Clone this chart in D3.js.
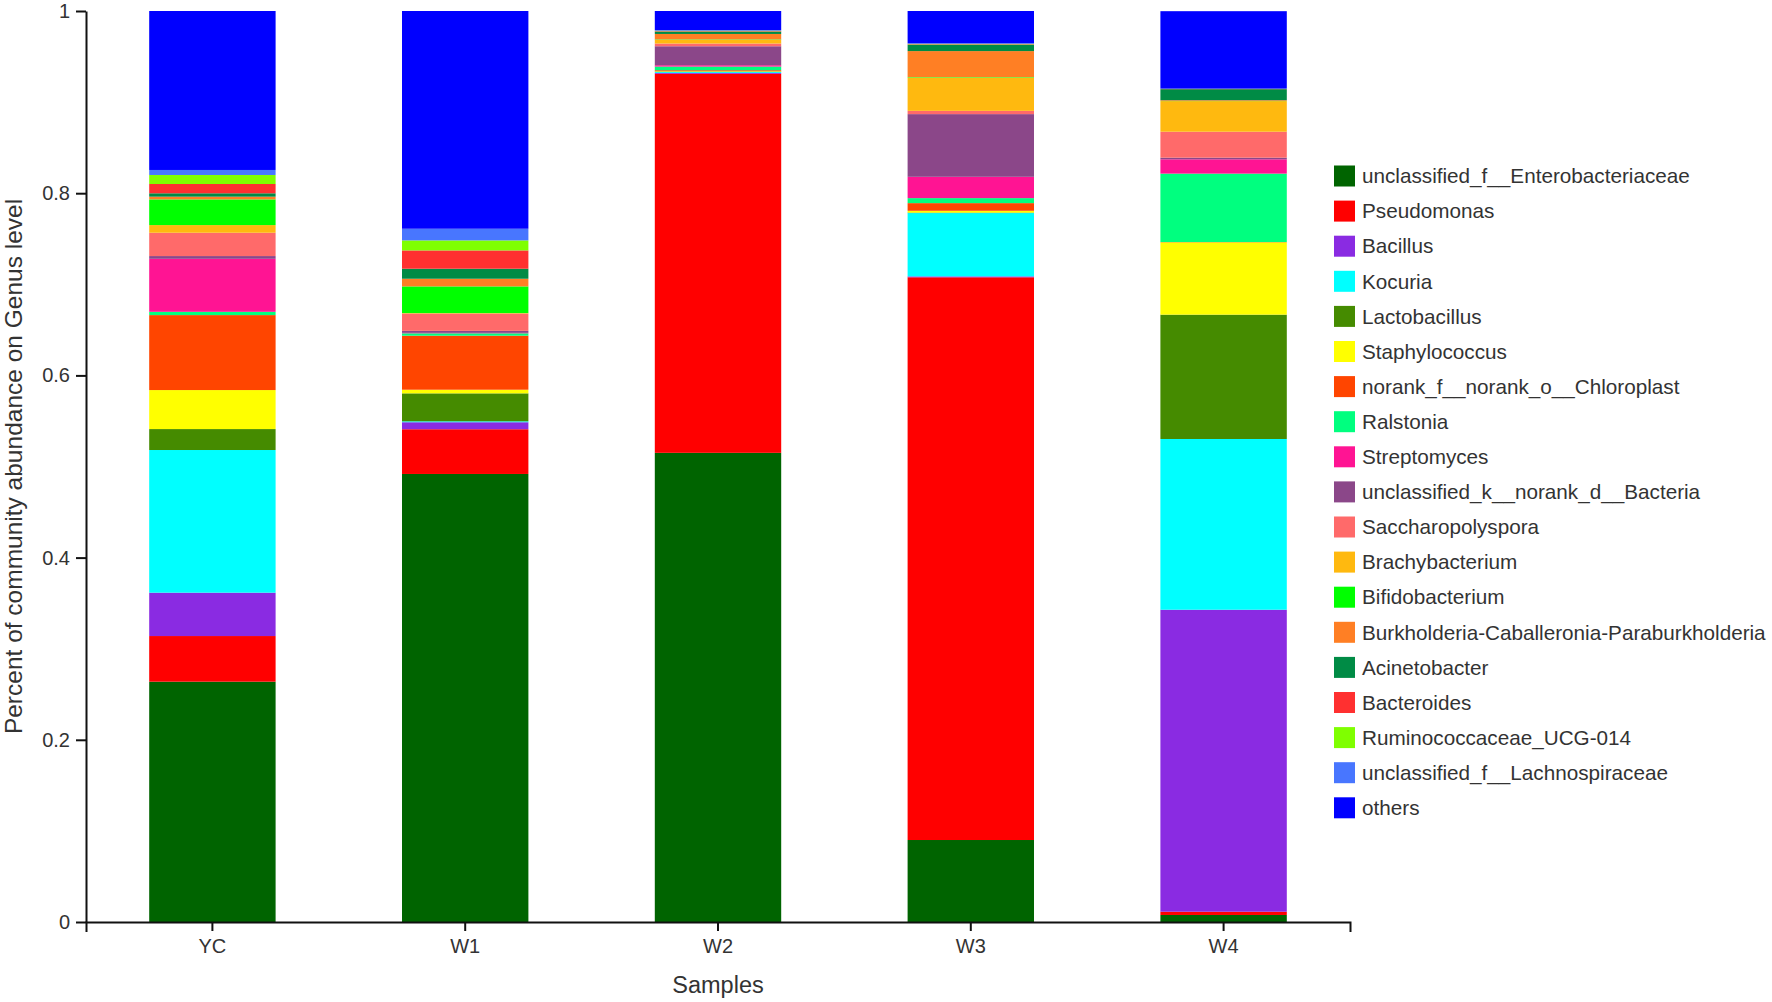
<!DOCTYPE html>
<html>
<head>
<meta charset="utf-8">
<script src="https://cdn.jsdelivr.net/npm/d3@7"></script>
<style>
    body { margin: 0; background: #fff; }
    svg text { font-family: Arial, "Liberation Sans", sans-serif; fill: #333; }
</style>
</head>
<body>
<div id="chart"></div>
<script>
// Samples on the x axis
const samples = ["YC", "W1", "W2", "W3", "W4"];

// Genera, bottom of the stack first
const genera = [
    "unclassified_f__Enterobacteriaceae", "Pseudomonas", "Bacillus", "Kocuria",
    "Lactobacillus", "Staphylococcus", "norank_f__norank_o__Chloroplast", "Ralstonia",
    "Streptomyces", "unclassified_k__norank_d__Bacteria", "Saccharopolyspora",
    "Brachybacterium", "Bifidobacterium", "Burkholderia-Caballeronia-Paraburkholderia",
    "Acinetobacter", "Bacteroides", "Ruminococcaceae_UCG-014",
    "unclassified_f__Lachnospiraceae", "others"
];

const generaColors = [
    "#006400", "#FF0000", "#8A2BE2", "#00FFFF", "#458B00", "#FFFF00", "#FF4500",
    "#00FF7F", "#FF1493", "#8B4789", "#FF6A6A", "#FFB90F", "#00FF00", "#FF7F24",
    "#008B45", "#FF3030", "#7FFF00", "#4876FF", "#0000FF"
];

// Relative abundance per sample, same order as genera
const valuesYC = [0.2638, 0.0501, 0.0476, 0.1566, 0.0230, 0.0428, 0.0823, 0.0036, 0.0582, 0.0030,
                  0.0256, 0.0084, 0.0282, 0.0030, 0.0037, 0.0102, 0.0099, 0.0055, 0.1745];
const valuesW1 = [0.4918, 0.0491, 0.0077, 0.0010, 0.0307, 0.0040, 0.0593, 0.0026, 0.0005, 0.0022,
                  0.0190, 0.0005, 0.0293, 0.0084, 0.0110, 0.0201, 0.0110, 0.0128, 0.2390];
const valuesW2 = [0.5150, 0.4160, 0.0010, 0.0010, 0.0005, 0.0005, 0.0010, 0.0040, 0.0015, 0.0208,
                  0.0030, 0.0040, 0.0005, 0.0060, 0.0026, 0.0005, 0.0005, 0.0005, 0.0211];
const valuesW3 = [0.0900, 0.6177, 0.0010, 0.0695, 0.0005, 0.0020, 0.0084, 0.0055, 0.0234, 0.0688,
                  0.0036, 0.0366, 0.0005, 0.0285, 0.0070, 0.0005, 0.0005, 0.0005, 0.0355];
const valuesW4 = [0.0077, 0.0036, 0.3315, 0.1874, 0.1365, 0.0794, 0.0003, 0.0751, 0.0157, 0.0018,
                  0.0285, 0.0336, 0.0002, 0.0008, 0.0121, 0.0002, 0.0002, 0.0002, 0.0850];

const yTicks = [0, 0.2, 0.4, 0.6, 0.8, 1];

function createStackedBar() {
    const container = d3.select("#chart");
    const W = 1772, H = 1002;
    const margin = { top: 11, left: 86 };
    const plotW = 1264, plotH = 911;

    container.selectAll("*").remove();

    const svg = container.append("svg")
        .attr("width", W)
        .attr("height", H);

    const g = svg.append("g")
        .attr("transform", `translate(${margin.left}, ${margin.top})`);

    // build table rows for d3.stack
    const sampleValues = [valuesYC, valuesW1, valuesW2, valuesW3, valuesW4];
    const table = samples.map((s, i) => {
        const row = { sample: s };
        genera.forEach((gname, j) => { row[gname] = sampleValues[i][j]; });
        return row;
    });

    const series = d3.stack().keys(genera)(table);

    const color = d3.scaleOrdinal().domain(genera).range(generaColors);

    const xScale = d3.scaleBand()
        .domain(samples)
        .range([0, plotW])
        .paddingInner(0.5)
        .paddingOuter(0.25);

    const yScale = d3.scaleLinear()
        .domain([0, 1])
        .range([plotH, 0]);

    // bars
    g.selectAll(".layer")
        .data(series)
        .enter()
        .append("g")
        .attr("class", "layer")
        .attr("fill", d => color(d.key))
        .selectAll("rect")
        .data(d => d)
        .enter()
        .append("rect")
        .attr("x", d => xScale(d.data.sample))
        .attr("y", d => yScale(d[1]))
        .attr("width", xScale.bandwidth())
        .attr("height", d => yScale(d[0]) - yScale(d[1]));

    // axes
    const yAxis = d3.axisLeft(yScale)
        .tickValues(yTicks)
        .tickFormat(d3.format("~g"))
        .tickSize(10)
        .tickSizeOuter(0)
        .tickPadding(6);

    const xAxis = d3.axisBottom(xScale)
        .tickSize(9)
        .tickSizeOuter(10)
        .tickPadding(8);

    const yG = g.append("g")
        .attr("class", "y-axis")
        .call(yAxis);

    const xG = g.append("g")
        .attr("class", "x-axis")
        .attr("transform", `translate(0, ${plotH})`)
        .call(xAxis);

    [xG, yG].forEach(a => {
        a.selectAll("path, line").attr("stroke", "#111").attr("stroke-width", 2);
        a.selectAll("text").style("font-size", "20px").attr("fill", "#333");
    });

    // axis titles
    svg.append("text")
        .attr("x", margin.left + plotW / 2)
        .attr("y", 993)
        .style("text-anchor", "middle")
        .style("font-size", "23.5px")
        .text("Samples");

    svg.append("text")
        .attr("transform", "rotate(-90)")
        .attr("x", -(margin.top + plotH / 2))
        .attr("y", 22)
        .style("text-anchor", "middle")
        .style("font-size", "24.5px")
        .text("Percent of community abundance on Genus level");

    createLegend(svg, color);
}

function createLegend(svg, color) {
    const legend = svg.append("g")
        .attr("class", "legend")
        .attr("transform", "translate(1334, 176)");

    const item = legend.selectAll(".legend-item")
        .data(genera)
        .enter()
        .append("g")
        .attr("class", "legend-item")
        .attr("transform", (d, i) => `translate(0, ${i * 35.1})`);

    item.append("rect")
        .attr("x", 0)
        .attr("y", -10.5)
        .attr("width", 21)
        .attr("height", 21)
        .attr("fill", d => color(d));

    item.append("text")
        .attr("x", 28)
        .attr("y", 0)
        .attr("dy", "0.35em")
        .style("font-size", "20.7px")
        .text(d => d);
}

createStackedBar();
</script>
</body>
</html>
